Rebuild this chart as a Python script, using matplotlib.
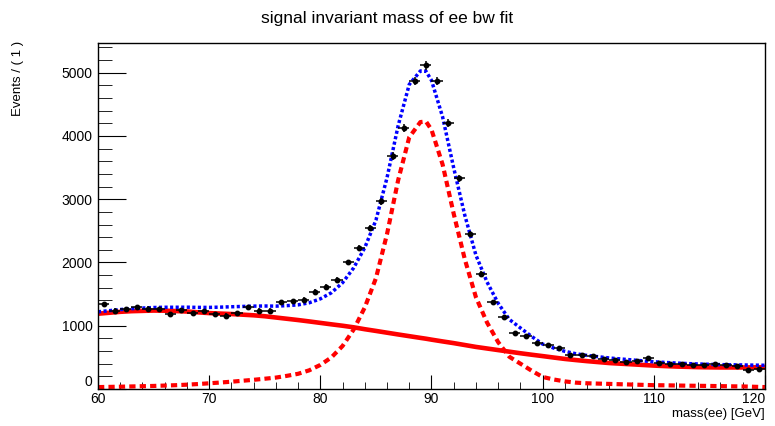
import matplotlib
matplotlib.use("Agg")
import matplotlib.pyplot as plt
from matplotlib.ticker import MultipleLocator

plt.rcParams['font.family'] = ['Liberation Sans', 'DejaVu Sans']

# data histogram: bin centres and counts (1 GeV bins)
mass = [60.5 + i for i in range(60)]
events = [1340, 1240, 1265, 1290, 1270, 1260, 1190, 1250, 1200, 1230,
          1180, 1160, 1200, 1290, 1240, 1240, 1370, 1385, 1410, 1540,
          1620, 1730, 2000, 2230, 2550, 2970, 3680, 4130, 4870, 5120,
          4870, 4200, 3330, 2450, 1815, 1370, 1140, 880, 835, 720,
          690, 650, 540, 540, 525, 480, 455, 430, 450, 490,
          410, 395, 400, 385, 385, 395, 380, 360, 295, 310]

# fit curves
curve_x = [60, 61, 62, 63, 64, 65, 66, 67, 68, 69,
           70, 71, 72, 73, 74, 75, 76, 77, 78, 79,
           80, 81, 82, 83, 84, 85, 86, 87, 88, 89, 89.5,
           90, 91, 92, 93, 94, 95, 96, 97, 98, 99,
           100, 101, 102, 103, 104, 105, 106, 107, 108, 109,
           110, 111, 112, 113, 114, 115, 116, 117, 118, 119, 120]
signal = [30, 33, 36, 40, 44, 48, 54, 60, 68, 78,
          90, 102, 115, 130, 145, 162, 180, 208, 240, 295,
          380, 500, 680, 940, 1290, 1750, 2450, 3300, 3980, 4220, 4230,
          4100, 3550, 2770, 2050, 1450, 1050, 740, 510, 400, 290,
          190, 150, 120, 100, 90, 85, 80, 75, 70, 65,
          60, 58, 55, 52, 50, 48, 45, 42, 40, 35, 30]
background = [1190, 1205, 1220, 1230, 1235, 1240, 1238, 1232, 1225, 1212,
              1200, 1192, 1185, 1175, 1165, 1150, 1130, 1110, 1090, 1068,
              1045, 1022, 1000, 975, 945, 918, 890, 862, 835, 808, 795,
              780, 752, 725, 695, 665, 640, 615, 590, 565, 542,
              520, 497, 475, 457, 440, 425, 410, 400, 390, 380,
              370, 362, 355, 350, 345, 342, 340, 340, 340, 342, 345]
total = [s + b for s, b in zip(signal, background)]

fig = plt.figure(figsize=(7.75, 4.26), dpi=100)
ax = fig.add_axes([0.1265, 0.0869, 0.8605, 0.8121])

ax.plot(curve_x, background, color='#ff0000', lw=3.3, solid_capstyle='butt')
ax.plot(curve_x, signal, color='#ff0000', lw=3.0, dashes=(1.5, 1.0))
ax.plot(curve_x, total, color='#0000ff', lw=2.5, dashes=(0.9, 0.7))

errs = [v ** 0.5 for v in events]
ax.errorbar(mass, events, yerr=errs, xerr=0.5, fmt='o', color='black',
            ms=3.2, elinewidth=1.1, capsize=0, zorder=5)

ax.set_xlim(60, 120)
ax.set_ylim(0, 5470)
ax.xaxis.set_major_locator(MultipleLocator(10))
ax.xaxis.set_minor_locator(MultipleLocator(2))
ax.yaxis.set_major_locator(MultipleLocator(1000))
ax.yaxis.set_minor_locator(MultipleLocator(200))
ax.tick_params(axis='both', which='both', direction='in', labelsize=10,
               top=False, right=False)
ax.tick_params(axis='x', which='major', length=10, pad=2)
ax.tick_params(axis='x', which='minor', length=5)
ax.tick_params(axis='y', which='major', length=20, pad=4)
ax.tick_params(axis='y', which='minor', length=10)
for s in ax.spines.values():
    s.set_linewidth(1.0)

fig.text(0.5, 0.957, "signal invariant mass of ee bw fit", ha='center',
         va='center', fontsize=12.5)
fig.text(0.023, 0.905, "Events / ( 1 )", rotation=90, ha='center',
         va='top', fontsize=9.5)
fig.text(0.987, 0.028, "mass(ee) [GeV]", ha='right', va='center',
         fontsize=9.5)

# ROOT-like placement of the corner labels
fig.canvas.draw()
for t in ax.xaxis.get_major_ticks():
    if abs(t.get_loc() - 120) < 1e-6:
        t.label1.set_horizontalalignment('right')
for t in ax.yaxis.get_major_ticks():
    if abs(t.get_loc()) < 1e-6:
        t.label1.set_verticalalignment('bottom')

fig.savefig("out.png", dpi=100)
